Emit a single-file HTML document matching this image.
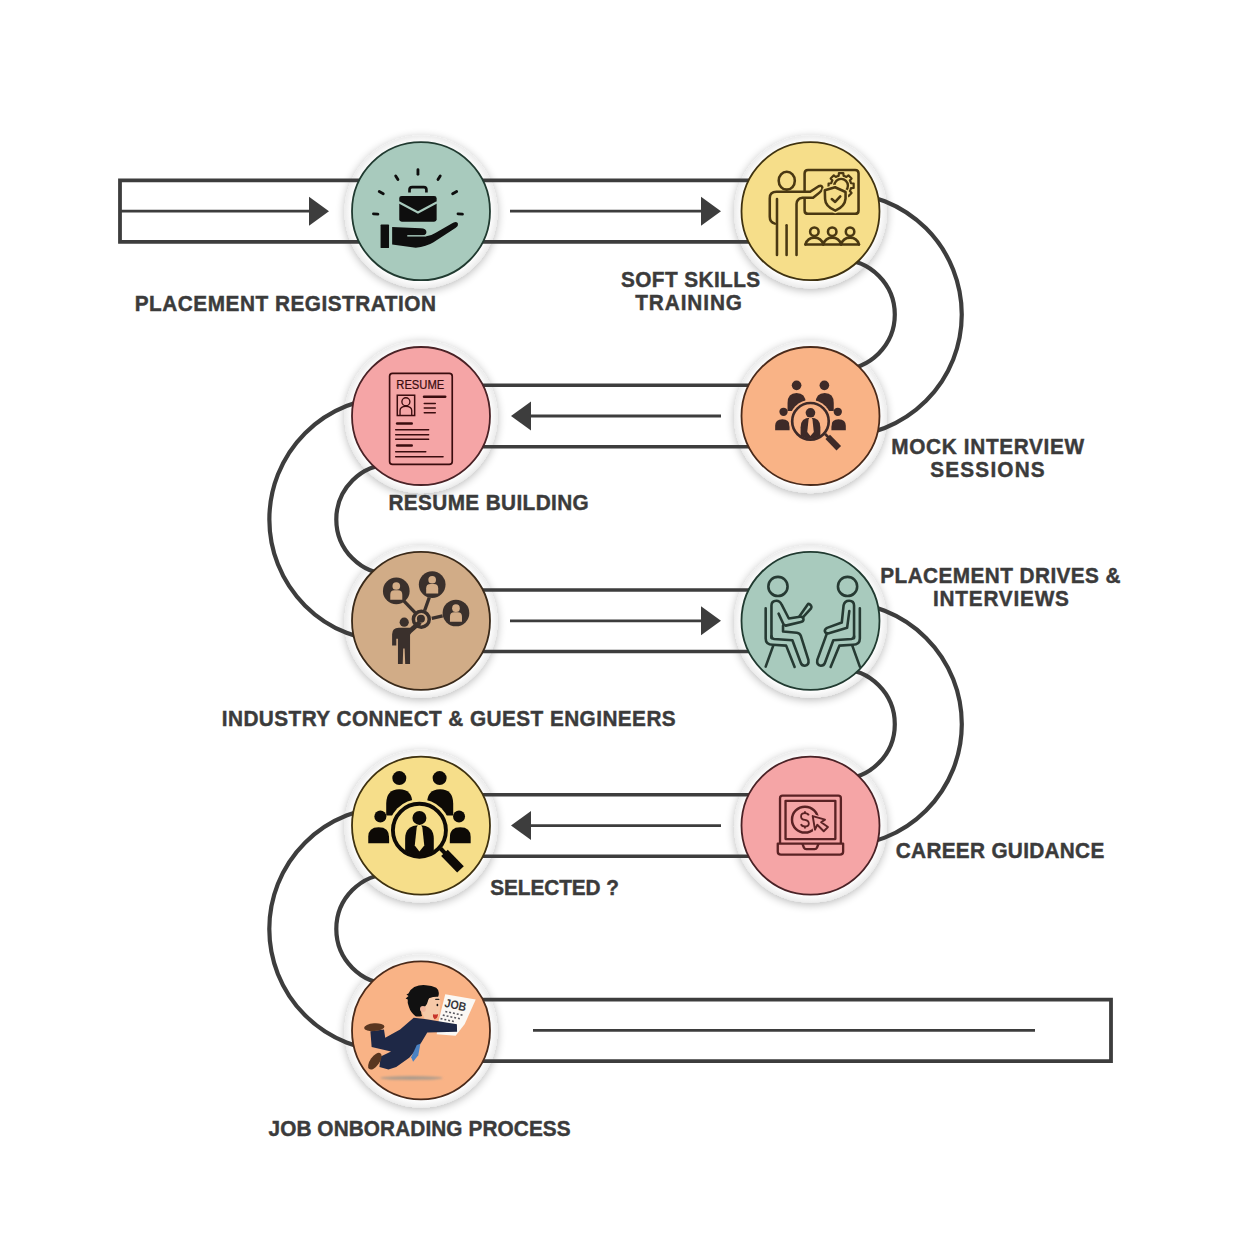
<!DOCTYPE html>
<html><head><meta charset="utf-8"><style>
html,body{margin:0;padding:0;background:#fff;}
svg{display:block;}
text.lb{font-family:"Liberation Sans",sans-serif;font-weight:bold;font-size:22.6px;stroke:#3b3b3b;stroke-width:0.45px;}
</style></head><body>
<svg width="1236" height="1258" viewBox="0 0 1236 1258">
<defs>
<filter id="sh" x="-30%" y="-30%" width="160%" height="160%">
<feGaussianBlur in="SourceAlpha" stdDeviation="5"/>
<feOffset dx="0" dy="2" result="b"/>
<feComponentTransfer><feFuncA type="linear" slope="0.28"/></feComponentTransfer>
<feMerge><feMergeNode/><feMergeNode in="SourceGraphic"/></feMerge>
</filter>
<radialGradient id="rg" cx="0.5" cy="0.5" r="0.5"><stop offset="0.9" stop-color="#ffffff"/><stop offset="1" stop-color="#ececec"/></radialGradient>
</defs>
<rect width="1236" height="1258" fill="#fff"/>
<circle cx="421.0" cy="211.89999999999998" r="76.5" fill="url(#rg)" filter="url(#sh)"/>
<circle cx="810.5" cy="211.89999999999998" r="76.5" fill="url(#rg)" filter="url(#sh)"/>
<circle cx="810.5" cy="416.7" r="76.5" fill="url(#rg)" filter="url(#sh)"/>
<circle cx="421.0" cy="416.7" r="76.5" fill="url(#rg)" filter="url(#sh)"/>
<circle cx="421.0" cy="621.5" r="76.5" fill="url(#rg)" filter="url(#sh)"/>
<circle cx="810.5" cy="621.5" r="76.5" fill="url(#rg)" filter="url(#sh)"/>
<circle cx="810.5" cy="826.3000000000002" r="76.5" fill="url(#rg)" filter="url(#sh)"/>
<circle cx="421.0" cy="826.3000000000002" r="76.5" fill="url(#rg)" filter="url(#sh)"/>
<circle cx="421.0" cy="1031.1000000000001" r="76.5" fill="url(#rg)" filter="url(#sh)"/>
<path d="M421.0 180.39999999999998 H120 V241.89999999999998 H421.0" fill="none" stroke="#3d3d3d" stroke-width="3.8"/>
<line x1="120" y1="211.2" x2="312" y2="211.2" stroke="#3d3d3d" stroke-width="2.8"/>
<polygon fill="#3d3d3d" points="309,196.7 309,225.7 329,211.2"/>
<line x1="421.0" y1="180.39999999999998" x2="810.5" y2="180.39999999999998" stroke="#3d3d3d" stroke-width="3.6"/>
<line x1="421.0" y1="241.89999999999998" x2="810.5" y2="241.89999999999998" stroke="#3d3d3d" stroke-width="3.6"/>
<line x1="510" y1="211.2" x2="704" y2="211.2" stroke="#3d3d3d" stroke-width="2.8"/>
<polygon fill="#3d3d3d" points="701,196.7 701,225.7 721,211.2"/>
<line x1="421.0" y1="385.2" x2="810.5" y2="385.2" stroke="#3d3d3d" stroke-width="3.6"/>
<line x1="421.0" y1="446.7" x2="810.5" y2="446.7" stroke="#3d3d3d" stroke-width="3.6"/>
<line x1="528" y1="416.0" x2="721" y2="416.0" stroke="#3d3d3d" stroke-width="2.8"/>
<polygon fill="#3d3d3d" points="531,401.5 531,430.5 511,416.0"/>
<line x1="421.0" y1="590.0" x2="810.5" y2="590.0" stroke="#3d3d3d" stroke-width="3.6"/>
<line x1="421.0" y1="651.5" x2="810.5" y2="651.5" stroke="#3d3d3d" stroke-width="3.6"/>
<line x1="510" y1="620.8" x2="704" y2="620.8" stroke="#3d3d3d" stroke-width="2.8"/>
<polygon fill="#3d3d3d" points="701,606.3 701,635.3 721,620.8"/>
<line x1="421.0" y1="794.8000000000002" x2="810.5" y2="794.8000000000002" stroke="#3d3d3d" stroke-width="3.6"/>
<line x1="421.0" y1="856.3000000000002" x2="810.5" y2="856.3000000000002" stroke="#3d3d3d" stroke-width="3.6"/>
<line x1="528" y1="825.6000000000001" x2="721" y2="825.6000000000001" stroke="#3d3d3d" stroke-width="2.8"/>
<polygon fill="#3d3d3d" points="531,811.1000000000001 531,840.1000000000001 511,825.6000000000001"/>
<path d="M421.0 999.6000000000001 H1111 V1061.1000000000001 H421.0" fill="none" stroke="#3d3d3d" stroke-width="3.8"/>
<line x1="533" y1="1030.4" x2="1035" y2="1030.4" stroke="#3d3d3d" stroke-width="2.6"/>
<path d="M839.8 259.6 A55 55 0 0 1 839.8 369.6" fill="none" stroke="#3d3d3d" stroke-width="4.2"/>
<path d="M391.3 464.4 A55 55 0 0 0 391.3 574.4" fill="none" stroke="#3d3d3d" stroke-width="4.2"/>
<path d="M839.8 669.2 A55 55 0 0 1 839.8 779.2" fill="none" stroke="#3d3d3d" stroke-width="4.2"/>
<path d="M391.3 874.0000000000001 A55 55 0 0 0 391.3 984.0000000000001" fill="none" stroke="#3d3d3d" stroke-width="4.2"/>
<path d="M839.8 192.60000000000002 A122 122 0 0 1 839.8 436.6" fill="none" stroke="#3d3d3d" stroke-width="4.2"/>
<path d="M391.3 397.4 A122 122 0 0 0 391.3 641.4" fill="none" stroke="#3d3d3d" stroke-width="4.2"/>
<path d="M839.8 602.2 A122 122 0 0 1 839.8 846.2" fill="none" stroke="#3d3d3d" stroke-width="4.2"/>
<path d="M391.3 807.0000000000001 A122 122 0 0 0 391.3 1051.0" fill="none" stroke="#3d3d3d" stroke-width="4.2"/>
<circle cx="421.0" cy="211.2" r="69.0" fill="#a8cabd" stroke="#203a30" stroke-width="1.8"/>
<circle cx="810.5" cy="211.2" r="69.0" fill="#f6de8a" stroke="#3f3210" stroke-width="1.8"/>
<circle cx="810.5" cy="416.0" r="69.0" fill="#f9b386" stroke="#4a2a1a" stroke-width="1.8"/>
<circle cx="421.0" cy="416.0" r="69.0" fill="#f5a5a6" stroke="#4a2226" stroke-width="1.8"/>
<circle cx="421.0" cy="620.8" r="69.0" fill="#d1ac87" stroke="#3a2a1a" stroke-width="1.8"/>
<circle cx="810.5" cy="620.8" r="69.0" fill="#a8cabd" stroke="#203a30" stroke-width="1.8"/>
<circle cx="810.5" cy="825.6000000000001" r="69.0" fill="#f5a5a6" stroke="#4a2226" stroke-width="1.8"/>
<circle cx="421.0" cy="825.6000000000001" r="69.0" fill="#f6de8a" stroke="#3f3210" stroke-width="1.8"/>
<circle cx="421.0" cy="1030.4" r="69.0" fill="#f9b386" stroke="#4a2a1a" stroke-width="1.8"/>
<g transform="translate(365,160) scale(0.08900)">
<g stroke="#0e0e0e" stroke-width="32" stroke-linecap="round" fill="none">
<path d="M595,110 V160"/><path d="M345,180 L370,220"/><path d="M845,180 L820,220"/>
<path d="M160,355 L205,380"/><path d="M1030,355 L985,380"/>
<path d="M95,605 L145,608"/><path d="M1045,605 L1095,608"/>
<path d="M500,365 V335 Q500,305 530,305 H660 Q690,305 690,335 V365" stroke-width="30" stroke-linecap="butt"/>
</g>
<rect x="385" y="405" width="420" height="290" rx="28" fill="#0e0e0e"/>
<polyline points="380,475 595,590 810,475" fill="none" stroke="#a8cabd" stroke-width="24"/>
<rect x="175" y="725" width="95" height="265" rx="8" fill="#0e0e0e"/>
<path fill="#0e0e0e" d="M305,752 L625,768 Q690,772 690,810 Q690,848 640,852 L700,855 Q740,850 790,820 L990,705 Q1035,685 1045,715 Q1050,740 1020,760 L770,925 Q690,975 570,985 L305,950 Z"/>
<path d="M475,852 H690" stroke="#a8cabd" stroke-width="16"/>
</g>
<g transform="translate(760,165) scale(0.08495)" fill="none" stroke="#4a3812" stroke-width="30" stroke-linecap="round" stroke-linejoin="round">
<ellipse cx="315" cy="185" rx="95" ry="105"/>
<path d="M525,300 V100 Q525,60 565,60 H1120 Q1160,60 1160,100 V535 Q1160,575 1120,575 H565 Q525,575 525,535 V400"/>
<path d="M175,690 Q115,675 115,610 V390 Q115,315 195,315 H590 L690,250 Q735,230 735,280 Q730,300 700,325 L625,385 H500 Q430,395 430,460 V1060"/>
<path d="M200,400 V1060"/><path d="M313,710 V1060"/>
<path d="M909.1,133.1 L926.0,127.6 L929.0,96.3 L981.0,96.3 L984.0,127.6 L1000.9,133.1 L1016.8,141.1 L1041.0,121.1 L1077.9,158.0 L1057.9,182.2 L1065.9,198.1 L1071.4,215.0 L1102.7,218.0 L1102.7,270.0 L1071.4,273.0 L1065.9,289.9 L1057.9,305.8 L1077.9,330.0 L1041.0,366.9 L1016.8,346.9 L1000.9,354.9 L984.0,360.4 L981.0,391.7 L929.0,391.7 L926.0,360.4 L909.1,354.9 L893.2,346.9 L869.0,366.9 L832.1,330.0 L852.1,305.8 L844.1,289.9 L838.6,273.0 L807.3,270.0 L807.3,218.0 L838.6,215.0 L844.1,198.1 L852.1,182.2 L832.1,158.0 L869.0,121.1 L893.2,141.1 Z" stroke-width="26"/>
<circle cx="955" cy="244" r="80" stroke-width="28"/>
<path d="M763,298 L884,262 L1007,318 V395 Q1000,488 886,537 Q768,488 766,400 Z" fill="#f6de8a" stroke="#f6de8a" stroke-width="60"/>
<path d="M763,298 L884,262 L1007,318 V395 Q1000,488 886,537 Q768,488 766,400 Z"/>
<path d="M845,400 L885,435 L945,370"/>
<circle cx="640" cy="785" r="50"/><circle cx="850" cy="785" r="50"/><circle cx="1060" cy="785" r="50"/>
<path d="M535,935 Q560,855 640,855 Q720,855 745,935"/>
<path d="M745,935 Q770,855 850,855 Q930,855 955,935"/>
<path d="M955,935 Q980,855 1060,855 Q1140,855 1165,935"/>
<path d="M535,935 H1165"/>
</g>
<g transform="translate(769.471,376.304) scale(0.06696)" fill="#3e2a28">
<circle cx="405" cy="135" r="72"/>
<circle cx="820" cy="135" r="72"/>
<path d="M270,520 V400 Q270,250 405,250 Q540,250 540,400 V520 Z"/>
<path d="M690,520 V400 Q690,250 825,250 Q960,250 960,400 V520 Z"/>
<circle cx="210" cy="530" r="62"/>
<circle cx="1020" cy="530" r="62"/>
<path d="M85,805 V740 Q85,640 192,640 Q300,640 300,740 V805 Z"/>
<path d="M925,805 V740 Q925,640 1032,640 Q1140,640 1140,740 V805 Z"/>
<circle cx="612" cy="672" r="320" fill="#f9b386"/>
<path d="M820,860 L895,935 L1000,1040" stroke="#f9b386" stroke-width="150" fill="none"/>
<circle cx="612" cy="672" r="273" fill="none" stroke="#3e2a28" stroke-width="40"/>
<path d="M830,860 L880,912" stroke="#3e2a28" stroke-width="42" fill="none"/>
<path d="M870,905 L1035,1075" stroke="#3e2a28" stroke-width="95" fill="none"/>
<circle cx="612" cy="545" r="72"/>
<clipPath id="cl769376"><circle cx="612" cy="672" r="260"/></clipPath>
<path clip-path="url(#cl769376)" d="M465,1000 V760 Q465,620 612,620 Q760,620 760,760 V1000 Z"/>
<polygon fill="#f9b386" points="596,618 630,618 642,645 662,830 612,892 564,830 584,645"/>
</g>
<g transform="translate(380,365) scale(0.08351)">
<rect x="115" y="100" width="750" height="1090" rx="35" fill="none" stroke="#3a0c0e" stroke-width="20"/>
<text x="195" y="292" textLength="575" lengthAdjust="spacingAndGlyphs" style="font-family:'Liberation Sans',sans-serif;font-weight:normal;font-size:150px" fill="#3a0c0e" stroke="#3a0c0e" stroke-width="2.5">RESUME</text>
<rect x="207" y="362" width="208" height="243" fill="none" stroke="#3a0c0e" stroke-width="18"/>
<circle cx="310" cy="440" r="48" fill="none" stroke="#3a0c0e" stroke-width="16"/>
<path d="M240,600 V545 Q240,495 310,495 Q380,495 380,545 V600" fill="none" stroke="#3a0c0e" stroke-width="16"/>
<g stroke="#3a0c0e" stroke-linecap="round">
<path d="M528,380 H780" stroke-width="32"/>
<path d="M530,460 H662 M530,515 H662 M530,572 H662" stroke-width="18"/>
<path d="M205,700 H380" stroke-width="30"/>
<path d="M188,775 H582 M188,835 H582 M188,890 H582" stroke-width="18"/>
<path d="M205,965 H380" stroke-width="30"/>
<path d="M188,1040 H548 M188,1100 H755" stroke-width="18"/>
</g></g>
<g transform="translate(375,565) scale(0.08347)">
<g stroke="#3a302c" stroke-width="40"><path d="M345,430 L480,570"/><path d="M650,390 L595,545"/><path d="M680,640 L810,610"/></g>
<circle cx="255" cy="310" r="160" fill="#3a302c"/>
<circle cx="255" cy="252" r="46" fill="#d3ad88"/>
<path d="M183,415 V355 Q183,302 235,302 H275 Q327,302 327,355 V415 Z" fill="#d3ad88"/><circle cx="685" cy="235" r="160" fill="#3a302c"/>
<circle cx="685" cy="177" r="46" fill="#d3ad88"/>
<path d="M613,340 V280 Q613,227 665,227 H705 Q757,227 757,280 V340 Z" fill="#d3ad88"/><circle cx="970" cy="575" r="160" fill="#3a302c"/>
<circle cx="970" cy="517" r="46" fill="#d3ad88"/>
<path d="M898,680 V620 Q898,567 950,567 H990 Q1042,567 1042,620 V680 Z" fill="#d3ad88"/>
<circle cx="555" cy="650" r="95" fill="none" stroke="#3a302c" stroke-width="42"/>
<circle cx="550" cy="645" r="48" fill="#3a302c"/>
<circle cx="350" cy="685" r="55" fill="#3a302c"/>
<path fill="#3a302c" d="M205,965 L205,830 Q205,752 285,752 L420,752 L515,668 L560,705 L435,815 L420,835 L420,1185 L362,1185 L355,1000 L338,1000 L332,1185 L275,1185 L275,885 L255,885 L255,965 Z"/>
</g>
<g transform="translate(755,570) scale(0.08900)" fill="none" stroke="#263a33" stroke-width="29" stroke-linecap="round" stroke-linejoin="round">
<circle cx="258" cy="185" r="108"/>
<path d="M120,430 V770 Q120,840 200,840 L350,850 L445,1090"/>
<path d="M205,850 L120,1085"/>
<path d="M185,765 V400 Q185,345 240,345 Q280,345 300,390 L380,545 L505,525 Q545,520 545,552 Q545,578 515,585 L345,625 L320,610 L265,490"/>
<path d="M315,625 V690 L470,705 Q505,710 515,740 L600,1010 Q610,1070 560,1075 Q525,1075 515,1045 L420,790 L215,775 Q185,770 185,745"/>
<path d="M500,520 L590,390 Q600,375 615,385 L630,400 Q640,415 630,430 L535,535"/>
<circle cx="1040" cy="185" r="108"/>
<path d="M1178,430 V770 Q1178,840 1098,840 L948,850 L850,1090"/>
<path d="M1093,850 L1178,1085"/>
<path d="M1113,765 V400 Q1113,345 1058,345 Q1005,345 995,400 L975,590 L810,650 Q780,665 785,690 Q795,720 830,710 L1035,650 L1060,460"/>
<path d="M805,720 L700,1010 Q690,1070 740,1075 Q775,1075 785,1045 L880,790 L1083,775 Q1113,770 1113,745"/>
</g>
<g transform="translate(770,785) scale(0.06472)" fill="none" stroke="#5a2224" stroke-width="36" stroke-linejoin="round">
<path d="M155,900 V205 Q155,165 195,165 H1055 Q1095,165 1095,205 V900"/>
<rect x="240" y="245" width="770" height="590"/>
<path d="M120,905 H1130 V1030 Q1130,1075 1080,1075 H170 Q120,1075 120,1030 Z"/>
<path d="M500,905 L525,970 Q535,990 560,990 H690 Q715,990 725,970 L752,905"/>
<circle cx="540" cy="535" r="200" stroke-width="38"/>
<path d="M600,470 Q585,435 540,435 Q480,435 480,485 Q480,530 540,540 Q600,550 600,598 Q600,640 540,640 Q490,640 478,605" stroke-width="28"/>
<path d="M540,405 V435 M540,640 V672" stroke-width="28"/>
<path d="M640,460 L905,550 L800,585 L925,665 L835,745 L730,630 L690,730 Z" fill="#f5a5a6" stroke="#f5a5a6" stroke-width="40"/>
<path d="M660,480 L850,535 L790,575 L895,650 L830,715 L730,615 L695,690 Z" fill="none" stroke="#5a2224" stroke-width="30"/>
</g>
<g transform="translate(360.000,765.000) scale(0.09709)" fill="#0d0a06">
<circle cx="405" cy="135" r="72"/>
<circle cx="820" cy="135" r="72"/>
<path d="M270,520 V400 Q270,250 405,250 Q540,250 540,400 V520 Z"/>
<path d="M690,520 V400 Q690,250 825,250 Q960,250 960,400 V520 Z"/>
<circle cx="210" cy="530" r="62"/>
<circle cx="1020" cy="530" r="62"/>
<path d="M85,805 V740 Q85,640 192,640 Q300,640 300,740 V805 Z"/>
<path d="M925,805 V740 Q925,640 1032,640 Q1140,640 1140,740 V805 Z"/>
<circle cx="612" cy="672" r="320" fill="#f6de8a"/>
<path d="M820,860 L895,935 L1000,1040" stroke="#f6de8a" stroke-width="150" fill="none"/>
<circle cx="612" cy="672" r="273" fill="none" stroke="#0d0a06" stroke-width="40"/>
<path d="M830,860 L880,912" stroke="#0d0a06" stroke-width="42" fill="none"/>
<path d="M870,905 L1035,1075" stroke="#0d0a06" stroke-width="95" fill="none"/>
<circle cx="612" cy="545" r="72"/>
<clipPath id="cl360765"><circle cx="612" cy="672" r="260"/></clipPath>
<path clip-path="url(#cl360765)" d="M465,1000 V760 Q465,620 612,620 Q760,620 760,760 V1000 Z"/>
<polygon fill="#f6de8a" points="596,618 630,618 642,645 662,830 612,892 564,830 584,645"/>
</g>
<g transform="translate(360,980) scale(0.09709)">
<defs><filter id="bl9" x="-20%" y="-200%" width="140%" height="500%"><feGaussianBlur stdDeviation="10"/></filter></defs>
<ellipse cx="530" cy="1010" rx="320" ry="20" fill="#ae9c8c" filter="url(#bl9)"/>
<polygon points="878,147 1192,200 1079,453 985,575 790,560 812,413" fill="#fbf8f4"/>
<text x="872" y="300" transform="rotate(12 985 250)" textLength="225" lengthAdjust="spacingAndGlyphs" style="font-family:'Liberation Sans',sans-serif;font-weight:bold;font-size:125px" fill="#38383e">JOB</text>
<g stroke="#55555c" stroke-width="16" stroke-dasharray="20 20" transform="rotate(12 900 380)"><path d="M868,330 H1050"/><path d="M850,372 H1040"/><path d="M835,412 H990"/></g>
<path fill="#f6c9a8" d="M699,180 L812,158 Q835,200 825,267 Q822,340 812,373 L759,413 L665,400 L632,313 Z"/>
<path fill="#111" d="M499,140 Q520,95 559,73 Q620,45 679,53 Q740,55 785,80 Q815,105 812,133 Q812,160 805,173 Q760,170 712,187 Q700,205 699,220 Q690,260 672,270 Q640,280 628,320 Q630,350 640,370 Q600,380 572,373 Q520,330 505,280 Q485,230 492,200 L470,190 L500,165 L478,150 Z"/>
<circle cx="648" cy="298" r="30" fill="#f0b59c"/>
<path d="M780,200 H812" stroke="#222" stroke-width="12" stroke-linecap="round"/>
<ellipse cx="797" cy="257" rx="9" ry="13" fill="#111"/>
<path fill="#c8352a" d="M752,352 Q780,362 805,350 Q800,400 770,405 Q748,395 752,352 Z"/>
<path fill="#1e2846" d="M553,389 L667,402 L998,455 L1000,533 L693,542 L633,642 L587,709 L507,802 L373,896 L293,922 L200,896 L213,789 L320,736 L120,689 L107,529 L247,509 L260,596 L413,509 Z"/>
<polygon fill="#4a82c4" points="585,669 622,656 600,776 547,842 527,795"/>
<ellipse cx="147" cy="486" rx="105" ry="40" transform="rotate(-4 147 486)" fill="#5a3620"/>
<ellipse cx="153" cy="836" rx="48" ry="100" transform="rotate(35 153 836)" fill="#5a3620"/>
</g>
<text class="lb" transform="translate(134.70,310.8) scale(0.92,1)" x="0" y="0" textLength="327.50" lengthAdjust="spacing" fill="#3b3b3b">PLACEMENT REGISTRATION</text>
<text class="lb" transform="translate(621.00,286.5) scale(0.92,1)" x="0" y="0" textLength="151.30" lengthAdjust="spacing" fill="#3b3b3b">SOFT SKILLS</text>
<text class="lb" transform="translate(635.20,309.8) scale(0.92,1)" x="0" y="0" textLength="116.09" lengthAdjust="spacing" fill="#3b3b3b">TRAINING</text>
<text class="lb" transform="translate(891.20,453.5) scale(0.92,1)" x="0" y="0" textLength="209.78" lengthAdjust="spacing" fill="#3b3b3b">MOCK INTERVIEW</text>
<text class="lb" transform="translate(930.30,476.6) scale(0.92,1)" x="0" y="0" textLength="124.35" lengthAdjust="spacing" fill="#3b3b3b">SESSIONS</text>
<text class="lb" transform="translate(388.50,509.6) scale(0.92,1)" x="0" y="0" textLength="217.61" lengthAdjust="spacing" fill="#3b3b3b">RESUME BUILDING</text>
<text class="lb" transform="translate(221.80,725.7) scale(0.92,1)" x="0" y="0" textLength="493.37" lengthAdjust="spacing" fill="#3b3b3b">INDUSTRY CONNECT &amp; GUEST ENGINEERS</text>
<text class="lb" transform="translate(880.30,582.7) scale(0.92,1)" x="0" y="0" textLength="261.20" lengthAdjust="spacing" fill="#3b3b3b">PLACEMENT DRIVES &amp;</text>
<text class="lb" transform="translate(932.90,605.9) scale(0.92,1)" x="0" y="0" textLength="147.93" lengthAdjust="spacing" fill="#3b3b3b">INTERVIEWS</text>
<text class="lb" transform="translate(895.80,857.5) scale(0.92,1)" x="0" y="0" textLength="226.63" lengthAdjust="spacing" fill="#3b3b3b">CAREER GUIDANCE</text>
<text class="lb" transform="translate(490.20,894.7) scale(0.92,1)" x="0" y="0" textLength="140.00" lengthAdjust="spacing" fill="#3b3b3b">SELECTED ?</text>
<text class="lb" transform="translate(268.50,1135.7) scale(0.92,1)" x="0" y="0" textLength="328.48" lengthAdjust="spacing" fill="#3b3b3b">JOB ONBORADING PROCESS</text>
</svg>
</body></html>
